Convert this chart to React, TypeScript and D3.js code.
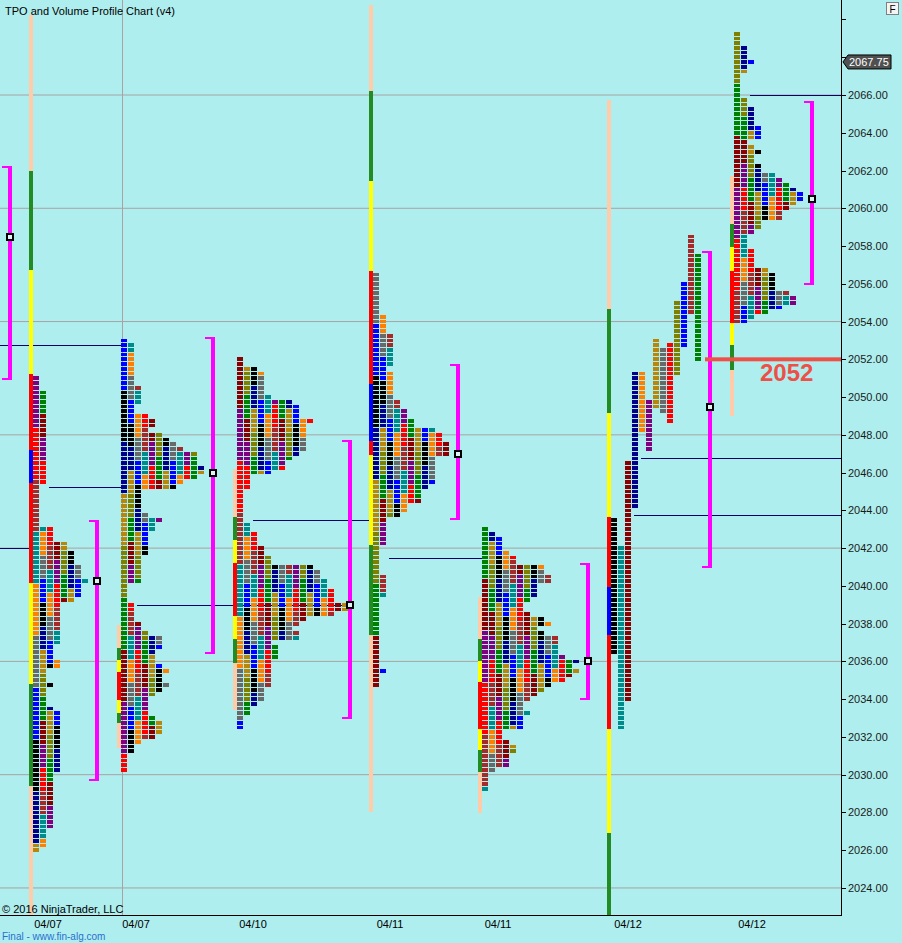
import React from 'react';
import * as d3 from 'd3';

// ---- values ----
const priceTicks = d3.range(2024, 2071, 2);
const gridPrices = [2066, 2060, 2054, 2048, 2042, 2036, 2030, 2024];
const sessionLabels = ['04/07', '04/07', '04/10', '04/11', '04/11', '04/12', '04/12'];
const lastPrice = 2067.75;
const keyLevel = 2052;
const tickSize = 0.25;

// TPO period colours, first period first
const periodColors = [
  '#000000', '#008B8B', '#8B0000', '#00008B', '#FF8000', '#800080', '#B8860B',
  '#696969', '#FF0000', '#808000', '#0000FF', '#A52A2A', '#008000',
];

// left packed profiles: [blocks in row, rows], top row first
const p1Top = 2051.0;
const p1Rows = [[1, 3], [2, 20], [1, 9], [3, 3], [5, 2], [6, 3], [7, 3], [8, 1], [7, 3], [6, 1], [4, 9], [3, 3], [4, 2], [2, 3], [3, 1], [2, 4], [3, 1], [4, 4], [4, 9], [3, 12], [2, 4], [1, 1]];
const p2Top = 2053.0;
const p2Rows = [[1, 1], [2, 9], [3, 4], [2, 2], [4, 1], [5, 2], [4, 1], [6, 1], [7, 1], [8, 1], [9, 1], [11, 3], [12, 2], [11, 1], [9, 1], [8, 1], [3, 5], [4, 1], [6, 1], [5, 2], [4, 5], [3, 6], [1, 4], [2, 4], [3, 2], [4, 1], [6, 3], [5, 3], [6, 1], [7, 1], [6, 2], [7, 1], [6, 1], [5, 1], [4, 4], [5, 1], [6, 3], [5, 1], [3, 1], [2, 2], [1, 4]];
const p3Top = 2052.0;
const p3Rows = [[1, 2], [3, 1], [4, 5], [5, 1], [8, 1], [9, 3], [11, 1], [10, 6], [9, 1], [8, 1], [7, 2], [5, 1], [2, 3], [1, 7], [2, 2], [3, 3], [4, 2], [5, 2], [11, 1], [12, 2], [13, 2], [14, 3], [16, 2], [14, 1], [10, 1], [9, 1], [8, 1], [9, 2], [5, 1], [6, 3], [5, 6], [4, 3], [3, 1], [2, 2], [1, 3]];
const p4Top = 2056.5;
const p4Rows = [[1, 9], [2, 4], [3, 7], [2, 1], [3, 6], [4, 2], [5, 2], [6, 2], [9, 1], [10, 2], [11, 3], [9, 6], [8, 1], [7, 3], [5, 2], [4, 1], [2, 6], [1, 6], [2, 5], [1, 15], [2, 1], [1, 3]];
const p5Top = 2043.0;
const p5Rows = [[1, 1], [2, 1], [3, 3], [4, 1], [5, 2], [9, 2], [10, 2], [8, 3], [7, 1], [6, 2], [7, 1], [9, 1], [10, 1], [8, 1], [9, 1], [11, 4], [12, 1], [14, 1], [13, 1], [14, 1], [13, 1], [12, 1], [10, 1], [9, 1], [8, 1], [7, 1], [6, 2], [7, 1], [6, 3], [3, 2], [4, 1], [5, 2], [4, 3], [2, 1], [1, 4]];
const p7Top = 2069.25;
const p7Rows = [[1, 3], [2, 3], [3, 1], [2, 2], [1, 5], [2, 2], [3, 4], [4, 3], [2, 1], [3, 1], [4, 1], [3, 2], [4, 2], [6, 1], [7, 1], [8, 1], [9, 1], [10, 2], [9, 1], [8, 1], [7, 2], [4, 2], [3, 1], [2, 3], [3, 4], [5, 1], [6, 4], [8, 1], [9, 2], [7, 1], [5, 1], [3, 1], [2, 1]];

// split profile of the developing 04/12 session: [high, low] of each period
const p6Periods = [
  [2043.5, 2036.5], [2042.0, 2032.5], [2046.5, 2034.0], [2051.25, 2044.25],
  [2051.25, 2048.25], [2049.75, 2047.25], [2053.0, 2049.5], [2052.5, 2049.25],
  [2052.75, 2048.75], [2055.0, 2051.25], [2056.0, 2052.75], [2058.5, 2054.5],
  [2057.5, 2052.0],
];

// session range bars: edge prices top to bottom, one kind letter per segment
const p1BarEdges = [2070.25, 2062.0, 2056.75, 2051.2, 2047.2, 2045.45, 2040.15, 2034.8, 2029.4, 2022.0];
const p1BarKinds = 'sgyrbrygs';
const p2BarEdges = [2037.93, 2036.71, 2036.07, 2035.44, 2033.96, 2033.27, 2032.74, 2031.41];
const p2BarKinds = 'sgyrygs';
const p3BarEdges = [2046.19, 2043.65, 2042.43, 2041.21, 2038.4, 2037.19, 2035.92, 2033.43];
const p3BarKinds = 'sgyrygs';
const p4BarEdges = [2070.77, 2066.21, 2061.44, 2056.68, 2050.69, 2047.67, 2046.93, 2042.17, 2037.4, 2028.02];
const p4BarKinds = 'sgyrbrygs';
const p5BarEdges = [2039.41, 2037.19, 2036.02, 2034.91, 2032.42, 2031.31, 2030.14, 2027.97];
const p5BarKinds = 'sgyrygs';
const p6BarEdges = [2065.74, 2054.67, 2049.16, 2043.65, 2039.94, 2037.4, 2032.42, 2026.91, 2022.0];
const p6BarKinds = 'sgyrbryg';
const p7BarEdges = [2061.71, 2059.17, 2057.95, 2056.68, 2053.92, 2052.76, 2051.43, 2048.99];
const p7BarKinds = 'sgyrygs';

// value areas [high, low, poc], previous session first
const vaHigh = [2062.24, 2043.49, 2053.18, 2047.73, 2051.75, 2041.21, 2057.74, 2065.68];
const vaLow = [2050.9, 2029.66, 2036.39, 2032.95, 2043.49, 2033.96, 2040.95, 2055.94];
const vaPoc = [2058.5, 2040.25, 2046.0, 2039.0, 2047.0, 2036.0, 2049.5, 2060.5];

// untested levels carried forward
const nakedLevels = [2052.75, 2045.25, 2042.0, 2039.0, 2043.5, 2041.5, 2046.75, 2043.75, 2066.0];

// ---- layout ----
const W = 902;
const H = 943;
const PLOT_R = 841;
const PLOT_B = 915;
const profileLeft = [33, 121, 237, 373, 482, 611, 734];
const vaLeft = [8, 95, 211, 348, 456, 586, 708, 810];
const nakedSpan = [[0, 121], [49, 121], [0, 33], [137, 350], [253, 372], [389, 482], [641, PLOT_R], [634, PLOT_R], [750, PLOT_R]];
const labelX = [48, 136, 253, 390, 498, 628, 752];
const barKindColor: Record<string, string> = {
  s: '#FFCBA8', g: '#228B22', y: '#FFFF00', r: '#FF0000', b: '#0000FF',
};
const FONT = '"Liberation Sans", Arial, sans-serif';

const y = d3.scaleLinear().domain([2022.568, 2071.032]).range([PLOT_B, 0]);
const col = d3.scaleLinear().domain([0, 1]).range([0, 7]);
const rowH = y(0) - y(tickSize);

type Block = {x: number; p: number; color: string};

function packedBlocks(top: number, rows: number[][], left: number, seed: number): Block[] {
  const out: Block[] = [];
  let r = 0;
  rows.forEach(([w, n]) => {
    for (let k = 0; k < n; k++, r++) {
      const p = top - r * tickSize;
      for (let c = 0; c < w; c++) {
        const run = c === 0 ? 11 : 5;
        const idx = (c * 4 + Math.floor((r + c * 2) / run) * 3 + seed * 5) % 13;
        out.push({x: left + col(c), p, color: periodColors[idx]});
      }
    }
  });
  return out;
}

function splitBlocks(periods: number[][], left: number): Block[] {
  const out: Block[] = [];
  periods.forEach(([hi, lo], c) => {
    for (let p = hi; p >= lo - 1e-6; p -= tickSize) {
      out.push({x: left + col(c), p, color: periodColors[c % 13]});
    }
  });
  return out;
}

const blocks: Block[] = [
  ...packedBlocks(p1Top, p1Rows, profileLeft[0], 1),
  ...packedBlocks(p2Top, p2Rows, profileLeft[1], 2),
  ...packedBlocks(p3Top, p3Rows, profileLeft[2], 3),
  ...packedBlocks(p4Top, p4Rows, profileLeft[3], 4),
  ...packedBlocks(p5Top, p5Rows, profileLeft[4], 5),
  ...splitBlocks(p6Periods, profileLeft[5]),
  ...packedBlocks(p7Top, p7Rows, profileLeft[6], 7),
];

const bars = [
  [p1BarEdges, p1BarKinds], [p2BarEdges, p2BarKinds], [p3BarEdges, p3BarKinds],
  [p4BarEdges, p4BarKinds], [p5BarEdges, p5BarKinds], [p6BarEdges, p6BarKinds],
  [p7BarEdges, p7BarKinds],
] as [number[], string][];

export default function App() {
  return (
    <div style={{position: 'absolute', left: 0, top: 0}}>
      <svg width={W} height={H} style={{display: 'block', background: '#AFEEEE'}} fontFamily={FONT}>
        <defs>
          <clipPath id="plot">
            <rect x={0} y={0} width={PLOT_R} height={PLOT_B} />
          </clipPath>
        </defs>

        <g clipPath="url(#plot)">
          {gridPrices.map((p) => (
            <line key={p} x1={0} x2={PLOT_R} y1={y(p)} y2={y(p)} stroke="#a8a2a2" strokeWidth={1} />
          ))}
          <line x1={122.5} x2={122.5} y1={0} y2={PLOT_B} stroke="#a8a2a2" />

          {nakedLevels.map((p, i) => (
            <line key={i} x1={nakedSpan[i][0]} x2={nakedSpan[i][1]} y1={Math.round(y(p)) + 0.5} y2={Math.round(y(p)) + 0.5} stroke="#00006e" strokeWidth={1} />
          ))}

          {bars.map(([edges, kinds], i) => (
            <g key={i}>
              {kinds.split('').map((k, j) => (
                <rect key={j} x={profileLeft[i] - 4} width={4} y={y(edges[j])} height={y(edges[j + 1]) - y(edges[j])} fill={barKindColor[k]} shapeRendering="crispEdges" />
              ))}
            </g>
          ))}

          <g shapeRendering="crispEdges">
            {blocks.map((b, i) => (
              <rect key={i} x={b.x} y={y(b.p + tickSize / 2) + 0.5} width={6} height={rowH - 1} fill={b.color} />
            ))}
          </g>

          {vaHigh.map((hi, i) => {
            const x0 = vaLeft[i];
            const lo = vaLow[i];
            const py = y(vaPoc[i]);
            return (
              <g key={i} shapeRendering="crispEdges">
                <rect x={x0} y={y(hi)} width={4} height={y(lo) - y(hi)} fill="#FF00FF" />
                <rect x={x0 - 6} y={y(hi)} width={10} height={2} fill="#FF00FF" />
                <rect x={x0 - 6} y={y(lo) - 2} width={10} height={2} fill="#FF00FF" />
                <rect x={x0 - 2} y={py - 4} width={8} height={8} fill="#000" />
                <rect x={x0} y={py - 2} width={4} height={4} fill="#dcf4f4" />
              </g>
            );
          })}

          <rect x={705} y={y(keyLevel) - 2} width={PLOT_R - 705} height={4} fill="#EE5048" />
          <text x={760} y={381} fontSize={24} fontWeight="bold" fill="#EE5048">2052</text>
        </g>

        {/* axes */}
        <line x1={PLOT_R + 0.5} x2={PLOT_R + 0.5} y1={0} y2={PLOT_B} stroke="#000" />
        <line x1={0} x2={PLOT_R + 1} y1={PLOT_B + 0.5} y2={PLOT_B + 0.5} stroke="#000" />
        {priceTicks.map((p) => (
          <g key={p}>
            <line x1={PLOT_R} x2={PLOT_R + 5} y1={Math.round(y(p)) + 0.5} y2={Math.round(y(p)) + 0.5} stroke="#000" />
            {p <= 2066 && (
              <text x={PLOT_R + 7} y={y(p) + 4} fontSize={11} fill="#1a1a1a">{p.toFixed(2)}</text>
            )}
          </g>
        ))}

        <g>
          <path d={`M${PLOT_R + 2},${y(lastPrice)} L${PLOT_R + 7},${y(lastPrice) - 7} H891 V${y(lastPrice) + 7} H${PLOT_R + 7} Z`} fill="#505050" stroke="#000" />
          <text x={PLOT_R + 8} y={y(lastPrice) + 4} fontSize={11} fill="#fff">{lastPrice.toFixed(2)}</text>
        </g>

        <rect x={886.5} y={2.5} width={12} height={12} fill="#f4f4f4" stroke="#808080" />
        <text x={892.5} y={12.5} fontSize={10} textAnchor="middle" fill="#000">F</text>

        {sessionLabels.map((s, i) => (
          <text key={i} x={labelX[i]} y={928} fontSize={11} textAnchor="middle" fill="#000">{s}</text>
        ))}

        <text x={5} y={15} fontSize={11} fill="#000">TPO and Volume Profile Chart (v4)</text>
        <text x={2} y={913} fontSize={11} fill="#000">© 2016 NinjaTrader, LLC</text>
        <text x={2} y={940} fontSize={10} fill="#2a6fd0">Final - www.fin-alg.com</text>
      </svg>
    </div>
  );
}
